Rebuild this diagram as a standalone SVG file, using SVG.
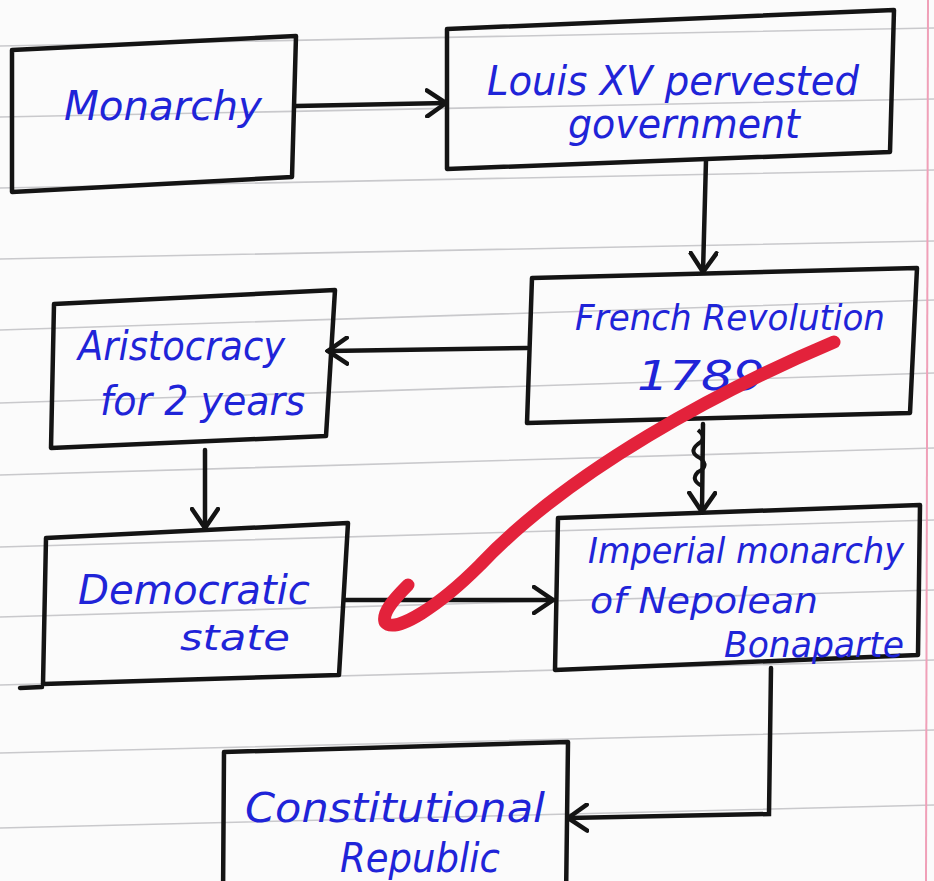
<svg xmlns="http://www.w3.org/2000/svg" width="934" height="881" viewBox="0 0 934 881">
<defs>
<style>
.rule{stroke:#c9c9cc;stroke-width:1.6;fill:none}
.box{fill:none;stroke:#141414;stroke-width:4.5;stroke-linejoin:round}
.edge{fill:none;stroke:#141414;stroke-width:4.5;stroke-linecap:round}
.txt{font-family:"DejaVu Sans","Liberation Sans",sans-serif;font-style:italic;fill:#1f24d8;font-size:40px}
.sm{font-size:36px}
.red{fill:none;stroke:#e3223b;stroke-width:13;stroke-linecap:round;stroke-linejoin:round}
</style>
<marker id="ah" viewBox="0 0 24 30" refX="21" refY="15" markerWidth="24" markerHeight="30" markerUnits="userSpaceOnUse" orient="auto">
<path d="M2,2 L21,15 L2,28" fill="none" stroke="#141414" stroke-width="4.5" stroke-linecap="round"/>
</marker>
</defs>
<rect width="934" height="881" fill="#fbfbfb"/>
<g id="paper">
<path class="rule" d="M0,46 L934,28 M0,117 L934,99 M0,188 L934,170 M0,259 L934,241 M0,330 L934,300 M0,403 L934,373 M0,475 L934,448 M0,547 L934,520 M0,617 L934,590 M0,685 L934,660 M0,753 L934,730 M0,828 L934,805"/>
<path d="M928,0 L926,881" stroke="#f0a0b8" stroke-width="2" fill="none"/>
</g>
<g id="connectors">
<path class="edge" d="M296,106 L446,103" marker-end="url(#ah)"/>
<path class="edge" d="M706,160 L703,272" marker-end="url(#ah)"/>
<path class="edge" d="M527,348 L328,351" marker-end="url(#ah)"/>
<path class="edge" d="M703,424 L702,512" marker-end="url(#ah)"/>
<path d="M698,430 q10,8 0,14 q-10,8 2,14 q10,8 -2,14 q-8,8 4,14" fill="none" stroke="#141414" stroke-width="4"/>
<path class="edge" d="M205,450 L205,528" marker-end="url(#ah)"/>
<path class="edge" d="M345,600 L553,600" marker-end="url(#ah)"/>
<path class="edge" d="M771,668 L769,814 L568,818" marker-end="url(#ah)"/>
<path class="edge" d="M20,688 L42,687"/>
</g>
<g id="monarchy">
<path class="box" d="M12,50 L296,36 L292,177 L12,192 Z"/>
<text class="txt" x="64" y="120" textLength="198" lengthAdjust="spacingAndGlyphs">Monarchy</text>
</g>
<g id="louis">
<path class="box" d="M447,29 L894,10 L890,152 L447,169 Z"/>
<text class="txt" x="487" y="95" textLength="372" lengthAdjust="spacingAndGlyphs">Louis XV pervested</text>
<text class="txt" x="568" y="138" textLength="232" lengthAdjust="spacingAndGlyphs">government</text>
</g>
<g id="french">
<path class="box" d="M532,278 L917,268 L910,413 L527,423 Z"/>
<text class="txt sm" x="575" y="330" textLength="310" lengthAdjust="spacingAndGlyphs">French Revolution</text>
<text class="txt" x="637" y="390" textLength="128" lengthAdjust="spacingAndGlyphs">1789</text>
</g>
<g id="aristocracy">
<path class="box" d="M54,304 L335,290 L326,436 L51,448 Z"/>
<text class="txt" x="78" y="360" textLength="207" lengthAdjust="spacingAndGlyphs">Aristocracy</text>
<text class="txt" x="100" y="415" textLength="205" lengthAdjust="spacingAndGlyphs">for 2 years</text>
</g>
<g id="democratic">
<path class="box" d="M46,538 L348,523 L339,675 L43,684 Z"/>
<text class="txt" x="78" y="604" textLength="232" lengthAdjust="spacingAndGlyphs">Democratic</text>
<text class="txt sm" x="180" y="650" textLength="110" lengthAdjust="spacingAndGlyphs">state</text>
</g>
<g id="imperial">
<path class="box" d="M558,518 L920,505 L918,655 L555,670 Z"/>
<text class="txt sm" x="588" y="563" textLength="316" lengthAdjust="spacingAndGlyphs">Imperial monarchy</text>
<text class="txt sm" x="590" y="613" textLength="228" lengthAdjust="spacingAndGlyphs">of Nepolean</text>
<text class="txt sm" x="724" y="657" textLength="180" lengthAdjust="spacingAndGlyphs">Bonaparte</text>
</g>
<g id="constitutional">
<path class="box" d="M223,900 L224,752 L568,742 L566,900"/>
<text class="txt" x="245" y="822" textLength="300" lengthAdjust="spacingAndGlyphs">Constitutional</text>
<text class="txt" x="340" y="872" textLength="160" lengthAdjust="spacingAndGlyphs">Republic</text>
</g>
<g id="red-mark">
<path class="red" d="M834,342 C720,390 570,470 480,565 C440,605 395,635 385,622 C382,612 395,598 408,585"/>
</g>
</svg>
